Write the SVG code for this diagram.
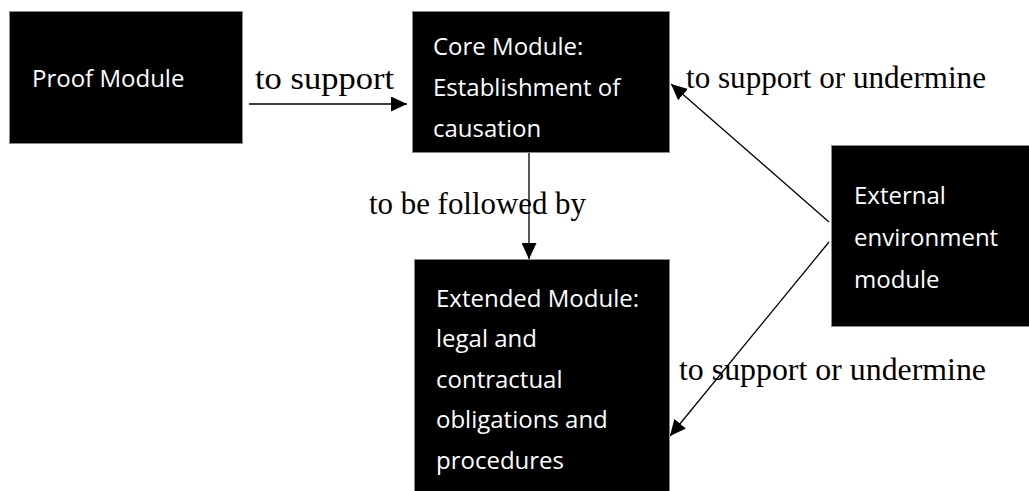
<svg xmlns="http://www.w3.org/2000/svg" width="1029" height="491" viewBox="0 0 1029 491">
  <style>
    .box { fill: #000; stroke: #8a8a8a; stroke-width: 1; }
    .btxt { fill: #fff; font-family: "Open Sans", "Noto Sans", sans-serif; font-size: 24px; }
    .lbl { fill: #000; font-family: "Liberation Serif", "Times New Roman", serif; font-size: 32px; }
    .edge { stroke: #000; stroke-width: 1.3; fill: none; marker-end: url(#head); }
  </style>
  <defs>
    <marker id="head" markerUnits="userSpaceOnUse" markerWidth="16" markerHeight="15" refX="16" refY="7.5" orient="auto">
      <path d="M0,0 L16,7.5 L0,15 Z" fill="#000"/>
    </marker>
  </defs>
  <rect width="1029" height="491" fill="#fff"/>

  <!-- connectors -->
  <g id="connectors">
    <line class="edge" x1="249" y1="104" x2="407" y2="104"/>
    <line class="edge" x1="529" y1="153" x2="529" y2="259"/>
    <line class="edge" x1="829" y1="222" x2="671" y2="84"/>
    <line class="edge" x1="829" y1="242" x2="670" y2="436"/>
    <text class="lbl" x="255" y="89" textLength="139" lengthAdjust="spacingAndGlyphs">to support</text>
    <text class="lbl" x="369" y="214" textLength="217" lengthAdjust="spacingAndGlyphs">to be followed by</text>
    <text class="lbl" x="686" y="88" textLength="300" lengthAdjust="spacingAndGlyphs">to support or undermine</text>
    <text class="lbl" x="679" y="380" textLength="307" lengthAdjust="spacingAndGlyphs">to support or undermine</text>
  </g>

  <!-- nodes -->
  <g id="proof-module">
    <rect class="box" x="9.5" y="11.5" width="233" height="132"/>
    <text class="btxt" x="32" y="87">Proof Module</text>
  </g>
  <g id="core-module">
    <rect class="box" x="412.5" y="11.5" width="257" height="141"/>
    <text class="btxt" x="433" y="55">Core Module:</text>
    <text class="btxt" x="433" y="96">Establishment of</text>
    <text class="btxt" x="433" y="137">causation</text>
  </g>
  <g id="extended-module">
    <rect class="box" x="414.5" y="259.5" width="255" height="240"/>
    <text class="btxt" x="436" y="306.5">Extended Module:</text>
    <text class="btxt" x="436" y="347">legal and</text>
    <text class="btxt" x="436" y="387.5">contractual</text>
    <text class="btxt" x="436" y="428">obligations and</text>
    <text class="btxt" x="436" y="468.5">procedures</text>
  </g>
  <g id="external-module">
    <rect class="box" x="831.5" y="145.5" width="210" height="181"/>
    <text class="btxt" x="854" y="203.5">External</text>
    <text class="btxt" x="854" y="245.5">environment</text>
    <text class="btxt" x="854" y="287.5">module</text>
  </g>
</svg>
